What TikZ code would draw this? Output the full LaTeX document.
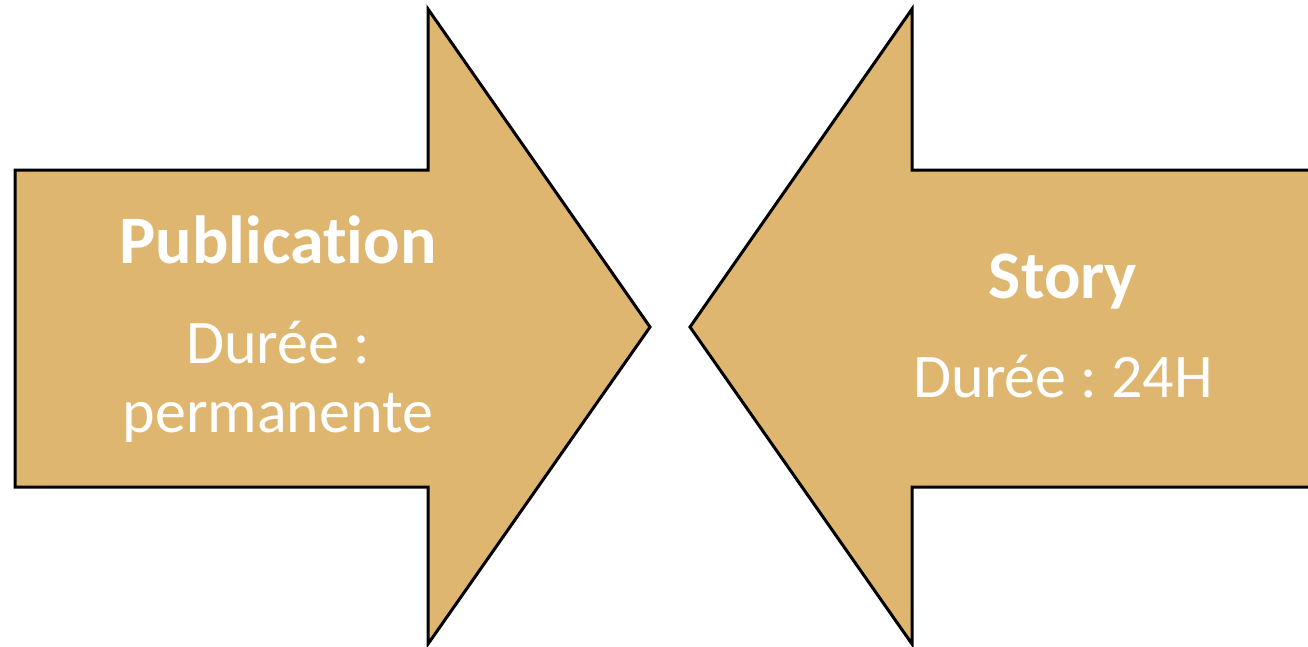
\documentclass[tikz,border=0pt]{standalone}
\usepackage{fontspec}
\setmainfont{Carlito}[Ligatures={NoCommon}]
\definecolor{arrowfill}{RGB}{222,182,112}
\frenchspacing
\begin{document}
\begin{tikzpicture}[x=1pt,y=-1pt,
  arrowshape/.style={fill=arrowfill,draw=black,line width=3pt,line join=miter},
  titletext/.style={text=white,font=\fontsize{68}{80}\selectfont\bfseries,anchor=base,inner sep=0pt},
  bodytext/.style={text=white,font=\fontsize{62}{72}\selectfont,anchor=base,inner sep=0pt}]
\useasboundingbox (0,0) rectangle (1308,646);
% left arrow
\draw[arrowshape] (15,170) -- (428,170) -- (428,9) -- (650,327) -- (428,644) -- (428,487) -- (15,487) -- cycle;
% right arrow
\draw[arrowshape] (1330,170) -- (912,170) -- (912,9) -- (690,327) -- (912,644) -- (912,487) -- (1330,487) -- cycle;
\node[titletext] (pub) at (278,263) {Publication};
\node[bodytext] (pubd1) at (278,363) {Durée :};
\node[bodytext] (pubd2) at (278,432) {permanente};
\node[titletext] (story) at (1063,298) {Story};
\node[bodytext] (storyd) at (1063,397) {Durée : 24H};
\end{tikzpicture}
\end{document}
